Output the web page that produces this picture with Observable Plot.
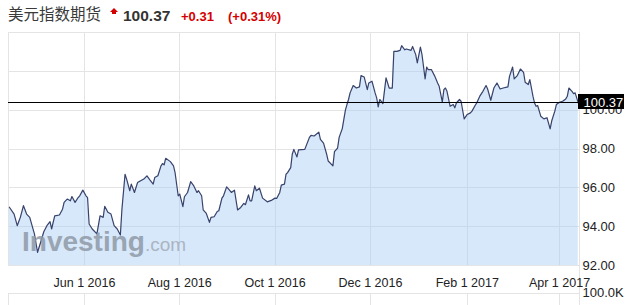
<!DOCTYPE html>
<html><head><meta charset="utf-8">
<script src="https://cdn.jsdelivr.net/npm/d3@7"></script>
<script src="https://cdn.jsdelivr.net/npm/@observablehq/plot@0.6"></script>
<style>
body{margin:0;background:#fff;}
#wrap{position:relative;width:635px;height:305px;overflow:hidden;font-family:"Liberation Sans",Arial,sans-serif;}
.t{position:absolute;white-space:nowrap;line-height:1;}
</style></head>
<body><div id="wrap"></div>
<script>
const titleText = "美元指数期货";
const lastText = "100.37";
const changeText = "+0.31";
const changePctText = "(+0.31%)";

const dates = ["2016-04-14","2016-04-17","2016-04-19","2016-04-21","2016-04-23","2016-04-25","2016-04-27","2016-04-30","2016-05-02","2016-05-04","2016-05-06","2016-05-08","2016-05-10","2016-05-11","2016-05-13","2016-05-16","2016-05-18","2016-05-19","2016-05-21","2016-05-23","2016-05-24","2016-05-26","2016-05-28","2016-05-29","2016-05-31","2016-06-02","2016-06-03","2016-06-04","2016-06-06","2016-06-09","2016-06-11","2016-06-13","2016-06-14","2016-06-16","2016-06-18","2016-06-20","2016-06-22","2016-06-24","2016-06-25","2016-06-27","2016-06-28","2016-06-30","2016-07-01","2016-07-03","2016-07-05","2016-07-07","2016-07-09","2016-07-11","2016-07-13","2016-07-15","2016-07-16","2016-07-18","2016-07-20","2016-07-21","2016-07-22","2016-07-23","2016-07-26","2016-07-28","2016-07-29","2016-07-31","2016-08-01","2016-08-03","2016-08-04","2016-08-06","2016-08-08","2016-08-10","2016-08-12","2016-08-13","2016-08-15","2016-08-16","2016-08-18","2016-08-20","2016-08-21","2016-08-23","2016-08-25","2016-08-26","2016-08-28","2016-08-29","2016-08-31","2016-09-01","2016-09-03","2016-09-05","2016-09-07","2016-09-09","2016-09-11","2016-09-12","2016-09-14","2016-09-15","2016-09-16","2016-09-18","2016-09-19","2016-09-21","2016-09-23","2016-09-26","2016-09-29","2016-10-01","2016-10-02","2016-10-04","2016-10-05","2016-10-07","2016-10-08","2016-10-09","2016-10-11","2016-10-12","2016-10-13","2016-10-15","2016-10-16","2016-10-20","2016-10-23","2016-10-24","2016-10-26","2016-10-29","2016-10-30","2016-11-01","2016-11-03","2016-11-04","2016-11-07","2016-11-08","2016-11-10","2016-11-11","2016-11-13","2016-11-15","2016-11-16","2016-11-17","2016-11-18","2016-11-20","2016-11-22","2016-11-24","2016-11-25","2016-11-27","2016-11-29","2016-11-30","2016-12-02","2016-12-04","2016-12-05","2016-12-06","2016-12-07","2016-12-09","2016-12-11","2016-12-13","2016-12-15","2016-12-16","2016-12-18","2016-12-20","2016-12-21","2016-12-23","2016-12-24","2016-12-27","2016-12-28","2016-12-30","2016-12-31","2017-01-02","2017-01-03","2017-01-05","2017-01-06","2017-01-07","2017-01-09","2017-01-11","2017-01-13","2017-01-14","2017-01-16","2017-01-17","2017-01-18","2017-01-19","2017-01-21","2017-01-23","2017-01-24","2017-01-25","2017-01-27","2017-01-28","2017-01-30","2017-02-01","2017-02-03","2017-02-04","2017-02-06","2017-02-07","2017-02-09","2017-02-11","2017-02-13","2017-02-14","2017-02-16","2017-02-18","2017-02-20","2017-02-22","2017-02-24","2017-02-27","2017-02-28","2017-03-02","2017-03-03","2017-03-05","2017-03-07","2017-03-09","2017-03-10","2017-03-12","2017-03-13","2017-03-15","2017-03-16","2017-03-17","2017-03-18","2017-03-20","2017-03-22","2017-03-24","2017-03-26","2017-03-27","2017-03-29","2017-03-30","2017-04-01","2017-04-03","2017-04-05","2017-04-06","2017-04-07","2017-04-09","2017-04-10","2017-04-11","2017-04-12","2017-04-13"];

const values = [95.00,94.65,94.05,94.48,95.08,94.65,94.48,93.63,92.68,93.20,93.74,94.05,94.26,93.88,94.56,94.60,94.90,95.25,95.42,95.33,95.55,95.25,95.50,95.59,95.88,95.59,95.50,94.14,93.88,93.63,94.56,94.48,95.05,94.74,94.65,94.05,93.88,93.57,94.90,96.70,96.45,95.85,96.19,95.76,96.27,96.36,96.45,96.62,96.40,96.19,96.53,96.62,97.13,97.25,97.18,97.52,97.35,97.13,96.78,95.59,95.68,95.03,95.54,95.76,96.32,96.10,95.76,95.85,95.59,94.86,94.68,94.22,94.48,94.51,94.78,94.82,95.47,95.59,96.05,95.96,95.76,95.88,94.86,94.99,95.20,95.13,95.64,95.33,95.33,96.10,95.85,95.98,95.47,95.28,95.37,95.47,95.45,95.76,96.14,96.19,96.70,96.78,97.04,97.73,97.98,97.59,97.95,97.98,98.60,98.70,98.67,98.87,98.50,98.30,97.73,97.38,97.13,97.86,98.05,98.60,99.05,100.00,100.29,100.55,100.89,101.27,101.14,101.20,101.78,101.71,101.06,101.40,101.49,100.89,100.63,100.17,100.55,100.34,101.66,101.14,101.14,103.03,103.03,103.08,103.32,103.11,103.15,103.08,103.28,102.86,102.43,103.25,102.86,101.61,102.22,102.09,102.09,101.78,101.40,101.23,100.41,101.06,101.14,100.97,100.20,100.29,100.12,100.37,100.55,100.46,99.55,99.78,99.86,99.95,100.24,100.37,100.72,100.97,101.27,101.09,100.51,101.14,101.40,101.09,101.14,101.20,101.74,102.22,101.61,101.78,102.12,101.95,101.44,101.32,101.57,100.72,100.37,100.20,100.24,99.69,99.55,99.61,99.04,99.44,99.95,100.29,100.41,100.46,100.58,100.72,101.14,100.97,100.85,100.89,100.63,100.37];

const xTickDates = ["2016-06-01","2016-08-01","2016-10-01","2016-12-01","2017-02-01","2017-04-01"];
const yTickValues = [92, 94, 96, 98, 100];
const yGridValues = [92, 94, 96, 98, 100, 102, 104];
const lastValue = 100.37;
const volumeLabel = "100.0K";

const data = dates.map((d, i) => ({date: new Date(d + "T00:00:00Z"), value: values[i]}));
const xTicks = xTickDates.map(d => new Date(d + "T00:00:00Z"));
const x0 = new Date("2016-04-13T10:00:00Z");
const x1 = new Date("2017-04-13T19:00:00Z");
// volume panel strip below the x labels (expressed in y units)
const volTop = 90.56, volBottom = 89.9;
const grid = "#e4e4e4";

const plot = Plot.plot({
  width: 635, height: 305,
  marginTop: 32, marginBottom: 40, marginLeft: 8, marginRight: 56,
  x: {type: "utc", domain: [x0, x1]},
  y: {domain: [92, 104]},
  style: {fontFamily: "'Liberation Sans', Arial, sans-serif", color: "#222", background: "white", overflow: "visible"},
  marks: [
    Plot.ruleY(yGridValues, {stroke: grid, shapeRendering: "crispEdges"}),
    Plot.ruleX(xTicks, {y1: 92, y2: 104, stroke: grid, shapeRendering: "crispEdges"}),
    Plot.ruleX([x0], {y1: 92, y2: 104, stroke: grid, shapeRendering: "crispEdges"}),
    Plot.ruleX([x1], {y1: volBottom, y2: 104, stroke: grid, shapeRendering: "crispEdges"}),
    Plot.ruleX([x0, ...xTicks], {y1: volTop, y2: volBottom, stroke: grid, shapeRendering: "crispEdges"}),
    Plot.ruleY([volTop], {stroke: grid, shapeRendering: "crispEdges"}),
    Plot.areaY(data, {x: "date", y1: 92, y2: "value", fill: "#a9cdf7", fillOpacity: 0.45}),
    Plot.lineY(data, {x: "date", y: "value", stroke: "#38426a", strokeWidth: 1.2}),
    Plot.ruleY([lastValue], {stroke: "black", strokeWidth: 1, shapeRendering: "crispEdges"}),
    Plot.axisX(xTicks, {tickSize: 0, tickPadding: 13, fontSize: 12.5, tickFormat: d3.utcFormat("%b %-d %Y"), label: null}),
    Plot.axisY(yTickValues, {anchor: "right", tickSize: 0, tickPadding: 3, fontSize: 13, tickFormat: d3.format(".2f"), label: null}),
    Plot.text([volumeLabel], {x: x1, y: volTop, text: d => d, dx: 3, dy: -1, textAnchor: "start", fontSize: 13, fill: "#222"}),
    Plot.text([lastValue], {x: x1, y: lastValue, text: d => d3.format(".2f")(d), dx: 4, dy: -0.5, textAnchor: "start", fontSize: 13, fill: "white", className: "lastlabel"})
  ]
});

const wrap = document.getElementById("wrap");
wrap.appendChild(plot);

// black box behind the last-value label, placed via the plot's own scales
const sx = plot.scale("x"), sy = plot.scale("y");
const bx = sx.apply(x1) - 1, by = sy.apply(lastValue);
const lbl = plot.querySelector("g.lastlabel, .lastlabel");
const rect = document.createElementNS("http://www.w3.org/2000/svg", "rect");
rect.setAttribute("x", bx); rect.setAttribute("y", by - 8.5);
rect.setAttribute("width", 46); rect.setAttribute("height", 15);
rect.setAttribute("fill", "black");
if (lbl) lbl.parentNode.insertBefore(rect, lbl); else plot.appendChild(rect);

// watermark
const wm = document.createElement("div");
wm.className = "t";
wm.style.cssText = "position:absolute;left:22px;top:228px;line-height:1;";
wm.innerHTML = '<span style="font-weight:bold;font-size:28px;color:#8f9aa6;opacity:0.85;">Investing</span><span style="font-size:19px;color:#a3adb8;opacity:0.85">.com</span>';
wrap.appendChild(wm);

// title
function addText(txt, left, top, css) {
  const s = document.createElement("div");
  s.className = "t"; s.textContent = txt;
  s.style.left = left + "px"; s.style.top = top + "px";
  s.style.cssText += css;
  wrap.appendChild(s);
  return s;
}
addText(titleText, 8, 6, "font-family:'Noto Sans CJK SC',sans-serif;font-size:15.5px;color:#3a3a3a;");
const icon = document.createElement("div");
icon.style.cssText = "position:absolute;left:110px;top:8px;width:0;height:0;border-left:4px solid transparent;border-right:4px solid transparent;border-bottom:4px solid #d40000;";
wrap.appendChild(icon);
const stem = document.createElement("div");
stem.style.cssText = "position:absolute;left:112px;top:12px;width:4px;height:2px;background:#d40000;";
wrap.appendChild(stem);
addText(lastText, 123, 8, "font-weight:bold;font-size:15.5px;color:#333;");
addText(changeText, 181, 10, "font-weight:bold;font-size:13px;color:#d40000;");
addText(changePctText, 228, 10, "font-weight:bold;font-size:13px;color:#d40000;");
</script>
</body></html>
